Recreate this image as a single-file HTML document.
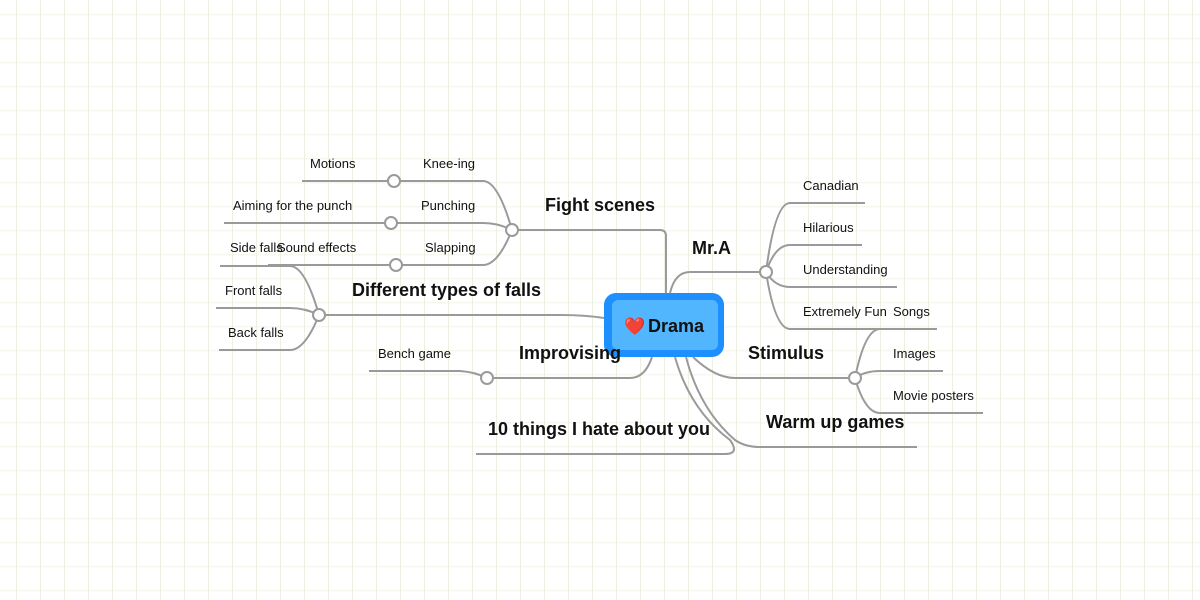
<!DOCTYPE html>
<html><head><meta charset="utf-8"><style>
html,body{margin:0;padding:0;width:1200px;height:600px;overflow:hidden;background:#fff}
svg{display:block}
text{font-family:"Liberation Sans",sans-serif;fill:#111}
.s{font-size:13px}
.b{font-size:18px;font-weight:bold}
</style></head><body>
<svg width="1200" height="600" xmlns="http://www.w3.org/2000/svg">
<defs>
<pattern id="g" width="24" height="24" patternUnits="userSpaceOnUse" x="4" y="2">
<rect x="0" y="12" width="24" height="1.5" fill="#f6f8f0"/>
<rect x="12" y="0" width="1" height="24" fill="#eaf1e0"/>
</pattern>
</defs>
<rect width="1200" height="600" fill="url(#g)"/>
<g fill="none" stroke="#9a9a9a" stroke-width="2">
<path d="M666 293 V236 Q666 230 660 230 H512"/>
<path d="M512 230 Q498 181 483 181 H302"/>
<path d="M512 230 Q498 223 483 223 H224"/>
<path d="M512 230 Q498 265 483 265 H268"/>
<path d="M604 318 Q585 315 560 315 H319"/>
<path d="M319 315 Q305 266 290 266 H220"/>
<path d="M319 315 Q305 308 290 308 H216"/>
<path d="M319 315 Q305 350 290 350 H219"/>
<path d="M652 357 Q645 378 630 378 H487 Q475 372 460 371 H369"/>
<path d="M675 357 Q690 410 730 440 Q740 454 725 454 H476"/>
<path d="M670 293 Q675 272 690 272 H766"/>
<path d="M766 272 Q775 203 790 203 H865"/>
<path d="M766 272 Q775 245 790 245 H862"/>
<path d="M766 272 Q775 287 790 287 H897"/>
<path d="M766 272 Q775 329 790 329 H937"/>
<path d="M693 357 Q715 378 735 378 H855"/>
<path d="M855 378 Q865 329 880 329 H937"/>
<path d="M855 378 Q865 371 880 371 H943"/>
<path d="M855 378 Q865 413 880 413 H983"/>
<path d="M686 357 Q700 410 735 440 Q745 447 760 447 H917"/>
</g>
<g fill="#fff" stroke="#9a9a9a" stroke-width="2">
<circle cx="512" cy="230" r="6"/>
<circle cx="394" cy="181" r="6"/>
<circle cx="391" cy="223" r="6"/>
<circle cx="396" cy="265" r="6"/>
<circle cx="319" cy="315" r="6"/>
<circle cx="487" cy="378" r="6"/>
<circle cx="766" cy="272" r="6"/>
<circle cx="855" cy="378" r="6"/>
</g>
<rect x="604" y="293" width="120" height="64" rx="12" fill="#1e8fff"/>
<rect x="612" y="300" width="106" height="50" rx="6" fill="#52b6ff"/>
<text x="624" y="332" style="font-size:17px">❤️</text>
<text x="648" y="332" class="b">Drama</text>

<text x="545" y="211" class="b">Fight scenes</text>
<text x="352" y="296" class="b">Different types of falls</text>
<text x="519" y="359" class="b">Improvising</text>
<text x="488" y="435" class="b">10 things I hate about you</text>
<text x="692" y="254" class="b">Mr.A</text>
<text x="748" y="359" class="b">Stimulus</text>
<text x="766" y="428" class="b">Warm up games</text>

<text x="310" y="168" class="s">Motions</text>
<text x="423" y="168" class="s">Knee-ing</text>
<text x="233" y="210" class="s">Aiming for the punch</text>
<text x="421" y="210" class="s">Punching</text>
<text x="230" y="252" class="s">Side falls</text>
<text x="277" y="252" class="s">Sound effects</text>
<text x="425" y="252" class="s">Slapping</text>
<text x="225" y="295" class="s">Front falls</text>
<text x="228" y="337" class="s">Back falls</text>
<text x="378" y="358" class="s">Bench game</text>
<text x="803" y="190" class="s">Canadian</text>
<text x="803" y="232" class="s">Hilarious</text>
<text x="803" y="274" class="s">Understanding</text>
<text x="803" y="316" class="s">Extremely Fun</text>
<text x="893" y="316" class="s">Songs</text>
<text x="893" y="358" class="s">Images</text>
<text x="893" y="400" class="s">Movie posters</text>
</svg>
</body></html>
